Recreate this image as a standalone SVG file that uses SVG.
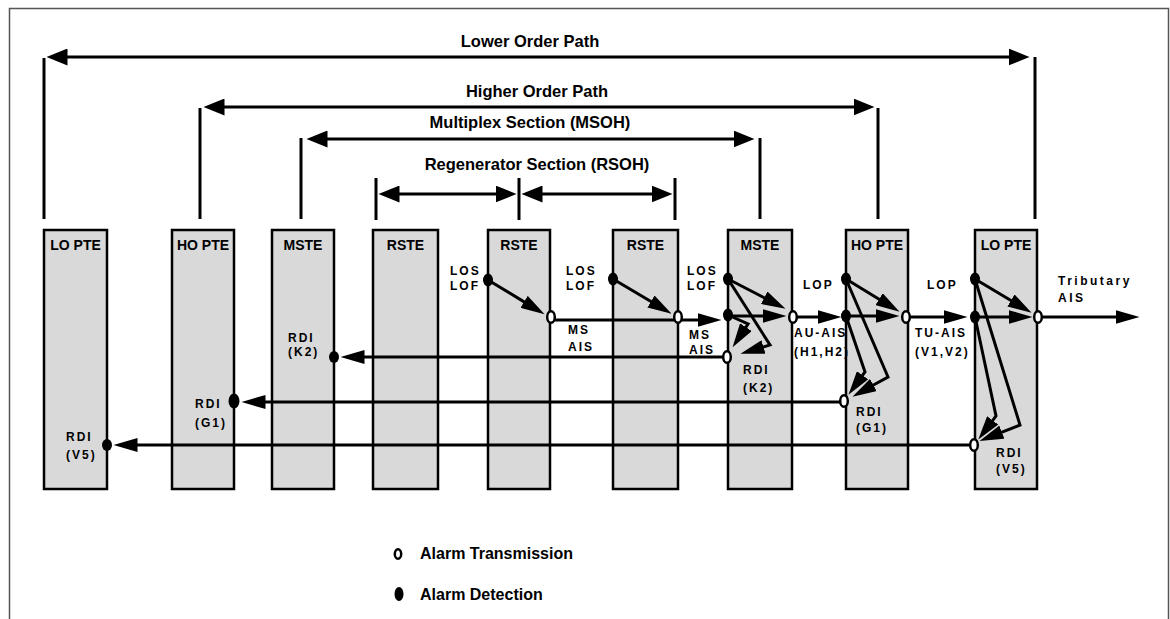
<svg xmlns="http://www.w3.org/2000/svg" width="1170" height="619" viewBox="0 0 1170 619">
<defs>
<style>
.frame{fill:none;stroke:#555;stroke-width:1.5}
.box{fill:#d9d9d9;stroke:#000;stroke-width:2.5}
.bl{font-family:"Liberation Sans",Arial,sans-serif;font-weight:bold;font-size:14px;text-anchor:middle;fill:#000}
.title{font-family:"Liberation Sans",Arial,sans-serif;font-weight:bold;font-size:16.5px;text-anchor:middle;fill:#000}
.lab{font-family:"Liberation Sans",Arial,sans-serif;font-weight:bold;font-size:12px;letter-spacing:2px;fill:#000}
.leg{font-family:"Liberation Sans",Arial,sans-serif;font-weight:bold;font-size:16px;fill:#000}
.span{stroke:#000;stroke-width:3;fill:none;marker-start:url(#big);marker-end:url(#big)}
.tick{stroke:#000;stroke-width:3}
.sig{stroke:#000;stroke-width:3;fill:none;marker-end:url(#sm)}
.det{fill:#000}
.tx{fill:#fff;stroke:#000;stroke-width:2.5}
</style>
<marker id="big" markerUnits="userSpaceOnUse" markerWidth="22" markerHeight="17" refX="0.5" refY="8.5" orient="auto-start-reverse" viewBox="0 0 22 17">
<path d="M0,0 L21,8.5 L0,17 z" fill="#000"/>
</marker>
<marker id="sm" markerUnits="userSpaceOnUse" markerWidth="25" markerHeight="14" refX="0.5" refY="7" orient="auto" viewBox="0 0 25 14">
<path d="M0,0 L24,7 L0,14 z" fill="#000"/>
</marker>
</defs>
<rect class="frame" x="9.5" y="8.5" width="1159" height="700"/>

<g id="spans">
<line class="tick" x1="44" y1="58" x2="44" y2="219"/>
<line class="tick" x1="1035" y1="57" x2="1035" y2="219"/>
<line class="span" x1="67" y1="57" x2="1009" y2="57"/>
<text class="title" x="530" y="46.5">Lower Order Path</text>
<line class="tick" x1="200" y1="108" x2="200" y2="219"/>
<line class="tick" x1="878" y1="108" x2="878" y2="219"/>
<line class="span" x1="224" y1="107" x2="854" y2="107"/>
<text class="title" x="537" y="96.5">Higher Order Path</text>
<line class="tick" x1="301" y1="138" x2="301" y2="219"/>
<line class="tick" x1="760" y1="138" x2="760" y2="219"/>
<line class="span" x1="327" y1="139" x2="734" y2="139"/>
<text class="title" x="530" y="128">Multiplex Section (MSOH)</text>
<line class="tick" x1="376" y1="178" x2="376" y2="220"/>
<line class="tick" x1="519" y1="178" x2="519" y2="220"/>
<line class="tick" x1="675" y1="178" x2="675" y2="220"/>
<line class="span" x1="399" y1="194" x2="496" y2="194"/>
<line class="span" x1="542" y1="194" x2="652" y2="194"/>
<text class="title" x="537" y="170">Regenerator Section (RSOH)</text>
</g>

<g id="n1"><rect class="box" x="44" y="230" width="63" height="259"/><text class="bl" x="75.5" y="250">LO PTE</text></g>
<g id="n2"><rect class="box" x="172" y="230" width="62" height="259"/><text class="bl" x="203" y="250">HO PTE</text></g>
<g id="n3"><rect class="box" x="272" y="230" width="62" height="259"/><text class="bl" x="303" y="250">MSTE</text></g>
<g id="n4"><rect class="box" x="373" y="230" width="65" height="259"/><text class="bl" x="405.5" y="250">RSTE</text></g>
<g id="n5"><rect class="box" x="488" y="230" width="62" height="259"/><text class="bl" x="519" y="250">RSTE</text></g>
<g id="n6"><rect class="box" x="613" y="230" width="65" height="259"/><text class="bl" x="645.5" y="250">RSTE</text></g>
<g id="n7"><rect class="box" x="728" y="230" width="64" height="259"/><text class="bl" x="760" y="250">MSTE</text></g>
<g id="n8"><rect class="box" x="846" y="230" width="62" height="259"/><text class="bl" x="877" y="250">HO PTE</text></g>
<g id="n9"><rect class="box" x="975" y="230" width="62" height="259"/><text class="bl" x="1006" y="250">LO PTE</text></g>

<g id="connectors">
<line class="sig" x1="488" y1="280" x2="524.5" y2="302.1"/>
<line class="sig" x1="613" y1="279" x2="651.4" y2="301.8"/>
<line class="sig" x1="555" y1="320" x2="698" y2="320"/>
<line class="sig" x1="723" y1="357" x2="364" y2="357"/>
<line class="sig" x1="840" y1="402" x2="265" y2="402"/>
<line class="sig" x1="970" y1="445" x2="137" y2="445"/>
<line class="sig" x1="728" y1="279" x2="764.7" y2="298"/>
<line class="sig" x1="728" y1="316" x2="763" y2="316"/>
<polyline class="sig" points="728,279 770,345 763,347.1"/>
<polyline class="sig" points="728,315 748,324 745.6,327.6"/>
<line class="sig" x1="797" y1="317" x2="818" y2="317"/>
<line class="sig" x1="846" y1="279" x2="879.5" y2="299.5"/>
<line class="sig" x1="846" y1="316" x2="876" y2="316"/>
<polyline class="sig" points="846,279 888,377 873,385.3"/>
<polyline class="sig" points="846,316 865,372 862.3,375.7"/>
<line class="sig" x1="910" y1="317" x2="944" y2="317"/>
<line class="sig" x1="975" y1="279" x2="1011.4" y2="300.7"/>
<line class="sig" x1="975" y1="317" x2="1009" y2="317"/>
<polyline class="sig" points="975,279 1020,425 1001.4,432.3"/>
<polyline class="sig" points="975,317 996,416 992.4,420.8"/>
<line class="sig" x1="1042" y1="317" x2="1116" y2="317"/>
</g>

<g id="points">
<ellipse class="det" cx="488" cy="280" rx="5" ry="6.5"/>
<ellipse class="det" cx="613" cy="279" rx="5" ry="6.5"/>
<ellipse class="det" cx="728" cy="279" rx="5" ry="6.5"/>
<ellipse class="det" cx="728" cy="315" rx="5" ry="6.5"/>
<ellipse class="det" cx="846" cy="279" rx="5" ry="6.5"/>
<ellipse class="det" cx="846" cy="316" rx="5" ry="6.5"/>
<ellipse class="det" cx="975" cy="279" rx="5" ry="6.5"/>
<ellipse class="det" cx="975" cy="317" rx="5" ry="6.5"/>
<ellipse class="det" cx="334" cy="357" rx="5" ry="6"/>
<ellipse class="det" cx="234" cy="401" rx="5.5" ry="7.5"/>
<ellipse class="det" cx="107" cy="445" rx="5" ry="6"/>
<ellipse class="tx" cx="551" cy="317" rx="3.8" ry="5.8"/>
<ellipse class="tx" cx="678" cy="317" rx="3.8" ry="5.8"/>
<ellipse class="tx" cx="793" cy="317" rx="3.8" ry="5.8"/>
<ellipse class="tx" cx="727" cy="357" rx="3.8" ry="5.8"/>
<ellipse class="tx" cx="906" cy="317" rx="3.8" ry="5.8"/>
<ellipse class="tx" cx="844" cy="401" rx="3.8" ry="5.8"/>
<ellipse class="tx" cx="1038" cy="317" rx="3.8" ry="5.8"/>
<ellipse class="tx" cx="974" cy="445" rx="3.8" ry="5.8"/>
</g>

<g id="labels">
<text class="lab" x="450" y="275">LOS</text><text class="lab" x="450" y="290">LOF</text>
<text class="lab" x="566" y="275">LOS</text><text class="lab" x="566" y="290">LOF</text>
<text class="lab" x="687" y="275">LOS</text><text class="lab" x="687" y="290">LOF</text>
<text class="lab" x="568" y="334">MS</text><text class="lab" x="568" y="351">AIS</text>
<text class="lab" x="689" y="339">MS</text><text class="lab" x="689" y="354">AIS</text>
<text class="lab" x="288" y="342">RDI</text><text class="lab" x="288" y="356">(K2)</text>
<text class="lab" x="195" y="408">RDI</text><text class="lab" x="195" y="427">(G1)</text>
<text class="lab" x="66" y="441">RDI</text><text class="lab" x="66" y="459">(V5)</text>
<text class="lab" x="803" y="289">LOP</text>
<text class="lab" x="927" y="289">LOP</text>
<text class="lab" x="794" y="337">AU-AIS</text><text class="lab" x="794" y="356">(H1,H2)</text>
<text class="lab" x="743" y="374">RDI</text><text class="lab" x="743" y="392">(K2)</text>
<text class="lab" x="856" y="416">RDI</text><text class="lab" x="856" y="432">(G1)</text>
<text class="lab" x="915" y="337">TU-AIS</text><text class="lab" x="915" y="356">(V1,V2)</text>
<text class="lab" x="996" y="457">RDI</text><text class="lab" x="996" y="473">(V5)</text>
<text class="lab" x="1058" y="285" style="letter-spacing:2.5px">Tributary</text><text class="lab" x="1058" y="302" style="letter-spacing:2.5px">AIS</text>
</g>

<g id="legend">
<ellipse class="tx" cx="398" cy="554" rx="3.2" ry="4.8"/>
<text class="leg" x="420" y="559">Alarm Transmission</text>
<ellipse class="det" cx="399" cy="594" rx="4.5" ry="7"/>
<text class="leg" x="420" y="600">Alarm Detection</text>
</g>
</svg>
